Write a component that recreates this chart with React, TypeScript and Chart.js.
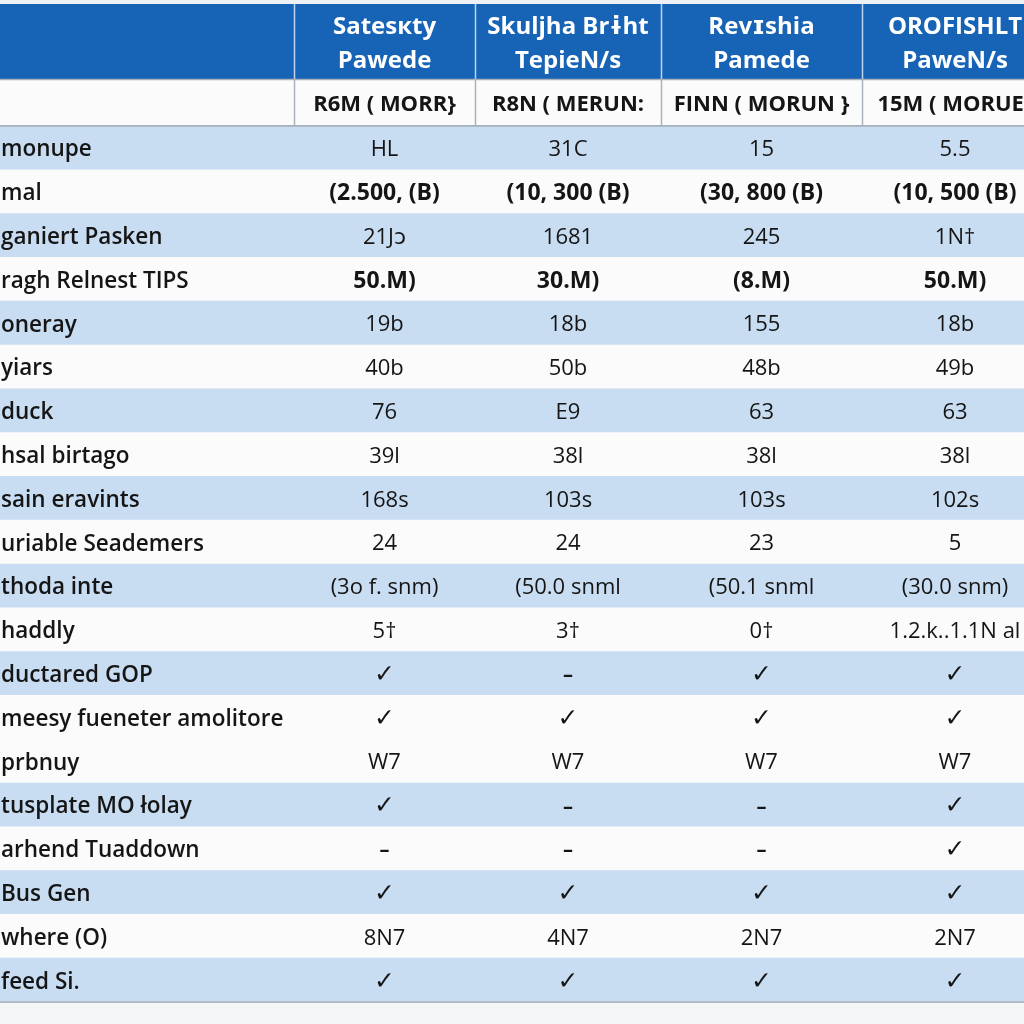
import React, { useEffect, useRef } from "react";
import { Chart, registerables } from "chart.js";

Chart.register(...registerables);

// ---- data ----
const headerLine1 = ["", "Satesкty", "Skuljha Brɨht", "Revɪshia", "OROFISHLT"];
const headerLine2 = ["", "Pawede", "TepieN/s", "Pamede", "PaweN/s"];
const subHeaders = ["", "R6M ( MORR}", "R8N ( MERUN:", "FINN ( MORUN }", "15M ( MORUE}"];

const rowLabels = [
  "monupe",
  "mal",
  "ganiert Pasken",
  "ragh Relnest TIPS",
  "oneray",
  "yiars",
  "duck",
  "hsal birtago",
  "sain eravints",
  "uriable Seademers",
  "thoda inte",
  "haddly",
  "ductared GOP",
  "meesy fueneter amolitore",
  "prbnuy",
  "tusplate MO łolay",
  "arhend Tuaddown",
  "Bus Gen",
  "where (O)",
  "feed Si.",
];

const col1Values = ["HL", "(2.500, (B)", "21Jɔ", "50.M)", "19b", "40b", "76", "39l", "168s", "24", "(3o f. snm)", "5†", "✓", "✓", "W7", "✓", "–", "✓", "8N7", "✓"];
const col2Values = ["31C", "(10, 300 (B)", "1681", "30.M)", "18b", "50b", "E9", "38l", "103s", "24", "(50.0 snml", "3†", "–", "✓", "W7", "–", "–", "✓", "4N7", "✓"];
const col3Values = ["15", "(30, 800 (B)", "245", "(8.M)", "155", "48b", "63", "38l", "103s", "23", "(50.1 snml", "0†", "✓", "✓", "W7", "–", "–", "✓", "2N7", "✓"];
const col4Values = ["5.5", "(10, 500 (B)", "1N†", "50.M)", "18b", "49b", "63", "38l", "102s", "5", "(30.0 snm)", "1.2.k..1.1N al", "✓", "✓", "W7", "✓", "✓", "✓", "2N7", "✓"];

// rows drawn with the light-blue band (1) or plain (0)
const rowBand = [1, 0, 1, 0, 1, 0, 1, 0, 1, 0, 1, 0, 1, 0, 0, 1, 0, 1, 0, 1];
// rows whose values are set in bold
const rowBold = [0, 1, 0, 1, 0, 0, 0, 0, 0, 0, 0, 0, 0, 0, 0, 0, 0, 0, 0, 0];

// ---- layout / style ----
const COL_EDGES = [0, 294, 475, 661, 862, 1048];
const X_MAX = 1024;
const HEADER_TOP = 4;
const HEADER_BOTTOM = 79;
const TABLE_TOP = 126;
const TABLE_BOTTOM = 1002;
const BLUE = "#1763B6";
const BAND = "#C8DCF2";
const PLAIN = "#FBFBFB";
const GRID = "#A8B1BB";
const TEXT = "#151515";
const FONT = "'Open Sans', 'DejaVu Sans', sans-serif";

export default function App() {
  const ref = useRef<HTMLCanvasElement | null>(null);

  useEffect(() => {
    const canvas = ref.current;
    if (!canvas) return;
    const columns = [col1Values, col2Values, col3Values, col4Values];

    const tablePlugin = {
      id: "tableText",
      beforeDraw(chart: any) {
        const { ctx, width, height } = chart;
        const x = chart.scales.x;
        ctx.save();
        ctx.fillStyle = "#F4F5F6";
        ctx.fillRect(0, 0, width, height);
        ctx.fillStyle = "#EEF1F4";
        ctx.fillRect(0, 0, width, HEADER_TOP);
        ctx.fillStyle = BLUE;
        ctx.fillRect(0, HEADER_TOP, width, HEADER_BOTTOM - HEADER_TOP);
        ctx.fillStyle = PLAIN;
        ctx.fillRect(0, HEADER_BOTTOM, width, TABLE_TOP - HEADER_BOTTOM);
        ctx.strokeStyle = "rgba(220,232,248,0.85)";
        ctx.lineWidth = 1.5;
        for (let i = 1; i < COL_EDGES.length - 1; i++) {
          const px = Math.round(x.getPixelForValue(COL_EDGES[i])) + 0.5;
          ctx.beginPath();
          ctx.moveTo(px, HEADER_TOP);
          ctx.lineTo(px, HEADER_BOTTOM);
          ctx.stroke();
        }
        ctx.strokeStyle = GRID;
        for (let i = 1; i < COL_EDGES.length - 1; i++) {
          const px = Math.round(x.getPixelForValue(COL_EDGES[i])) + 0.5;
          ctx.beginPath();
          ctx.moveTo(px, HEADER_BOTTOM);
          ctx.lineTo(px, TABLE_TOP);
          ctx.stroke();
        }
        ctx.restore();
      },
      afterDraw(chart: any) {
        const { ctx } = chart;
        const x = chart.scales.x;
        const y = chart.scales.y;
        ctx.save();
        ctx.strokeStyle = GRID;
        ctx.lineWidth = 1.5;
        [HEADER_BOTTOM + 0.5, TABLE_TOP, TABLE_BOTTOM].forEach((ly) => {
          ctx.beginPath();
          ctx.moveTo(0, ly);
          ctx.lineTo(chart.width, ly);
          ctx.stroke();
        });

        ctx.textBaseline = "middle";
        ctx.textAlign = "center";
        for (let c = 1; c < COL_EDGES.length - 1; c++) {
          const cx = x.getPixelForValue((COL_EDGES[c] + COL_EDGES[c + 1]) / 2);
          ctx.fillStyle = "#FFFFFF";
          ctx.font = `bold 24px ${FONT}`;
          ctx.fillText(headerLine1[c], cx, 27);
          ctx.fillText(headerLine2[c], cx, 61);
          ctx.fillStyle = TEXT;
          ctx.font = `bold 22px ${FONT}`;
          ctx.fillText(subHeaders[c], cx, 105);
        }

        rowLabels.forEach((label, r) => {
          const cy = y.getPixelForValue(r) + 2;
          ctx.textAlign = "left";
          ctx.fillStyle = TEXT;
          ctx.font = `600 22.5px ${FONT}`;
          ctx.fillText(label, 1, cy);
          ctx.textAlign = "center";
          columns.forEach((col, c) => {
            const v = col[r];
            const cx = x.getPixelForValue((COL_EDGES[c + 1] + COL_EDGES[c + 2]) / 2);
            if (v === "✓") {
              ctx.font = `bold 25px 'DejaVu Sans', sans-serif`;
            } else if (v === "–") {
              ctx.font = `bold 20px ${FONT}`;
            } else if (rowBold[r]) {
              ctx.font = `bold 23px ${FONT}`;
            } else {
              ctx.font = `22px ${FONT}`;
            }
            ctx.fillText(v, cx, cy);
          });
        });
        ctx.restore();
      },
    };

    const chart = new Chart(canvas, {
      type: "bar",
      data: {
        labels: rowLabels,
        datasets: [
          {
            data: rowLabels.map(() => [0, COL_EDGES[COL_EDGES.length - 1]]) as any,
            backgroundColor: rowBand.map((b) => (b ? BAND : PLAIN)),
            borderWidth: 0,
            barPercentage: 1,
            categoryPercentage: 1,
          },
        ],
      },
      options: {
        indexAxis: "y",
        animation: false,
        responsive: true,
        maintainAspectRatio: false,
        layout: { padding: { top: TABLE_TOP, bottom: 1024 - TABLE_BOTTOM, left: 0, right: 0 } },
        plugins: { legend: { display: false }, tooltip: { enabled: false } },
        events: [],
        scales: {
          x: {
            type: "linear",
            min: 0,
            max: X_MAX,
            z: 1,
            afterBuildTicks: (s: any) => {
              s.ticks = COL_EDGES.slice(1, -1).map((v) => ({ value: v }));
            },
            ticks: { display: false },
            grid: { color: GRID, lineWidth: 1.5, drawTicks: false },
            border: { display: false },
          },
          y: {
            type: "category",
            offset: true,
            z: 1,
            ticks: { display: false },
            grid: { offset: true, color: GRID, lineWidth: 1.5, drawTicks: false },
            border: { display: false },
          },
        },
      },
      plugins: [tablePlugin],
    } as any);

    return () => chart.destroy();
  }, []);

  return (
    <div style={{ position: "fixed", left: 0, top: 0, width: 1024, height: 1024 }}>
      <canvas ref={ref} />
    </div>
  );
}
